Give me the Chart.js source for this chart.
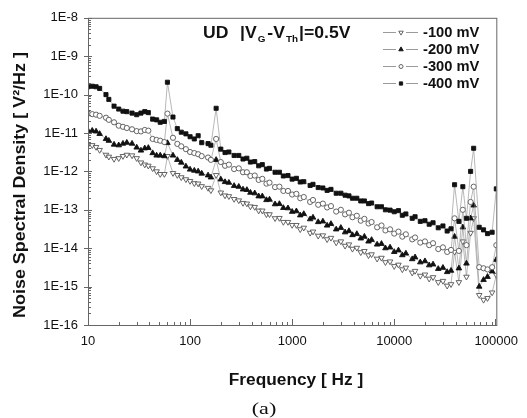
<!DOCTYPE html>
<html>
<head>
<meta charset="utf-8">
<script src="https://cdn.jsdelivr.net/npm/chart.js@4.4.1/dist/chart.umd.min.js"></script>
<style>
  html, body { margin: 0; padding: 0; background: #ffffff; }
  #wrap { width: 527px; height: 418px; }
</style>
</head>
<body>
<div id="wrap"><canvas id="noiseChart" width="527" height="418"></canvas></div>
<script>
// ---------- data ----------
const freqs = [
  10, 11, 12, 13, 15, 16, 18, 20, 22, 24, 27, 30, 33, 36, 39, 43, 47, 51, 56, 60, 68, 75, 82, 91,
  100, 110, 120, 130, 150, 160, 180, 200, 220, 240, 270, 300, 330, 360, 390, 430, 470, 510, 560, 600, 680, 750, 820, 910,
  1000, 1100, 1200, 1300, 1500, 1600, 1800, 2000, 2200, 2400, 2700, 3000, 3300, 3600, 3900, 4300, 4700, 5100, 5600, 6000, 6800, 7500, 8200, 9100,
  10000, 11000, 12000, 13000, 15000, 16000, 18000, 20000, 22000, 24000, 27000, 30000, 33000, 36000, 39000, 43000, 47000, 51000, 56000, 60000, 68000, 75000, 82000, 91000,
  100000
];

const psd100 = [
  4.9e-12, 4.8e-12, 4.3e-12, 3.6e-12, 2.7e-12, 2.4e-12, 2.1e-12, 2.2e-12, 2.5e-12, 2.7e-12, 2.6e-12, 2.2e-12, 1.7e-12, 1.5e-12, 1.4e-12, 1.2e-12, 1.0e-12, 8.5e-13, 8.5e-13, 2.5e-12, 9.0e-13, 8.0e-13, 7.0e-13, 6.2e-13,
  5.6e-13, 4.9e-13, 4.8e-13, 4.1e-13, 3.7e-13, 3.2e-13, 8.0e-13, 2.8e-13, 2.35e-13, 2.25e-13, 1.9e-13, 1.75e-13, 1.5e-13, 1.45e-13, 1.22e-13, 1.18e-13, 9.5e-14, 9.5e-14, 7.6e-14, 7.6e-14, 6.0e-14, 6.1e-14, 4.8e-14, 4.8e-14,
  4.0e-14, 4.0e-14, 3.1e-14, 3.4e-14, 2.5e-14, 2.7e-14, 2.1e-14, 2.15e-14, 1.7e-14, 1.85e-14, 1.4e-14, 1.5e-14, 1.15e-14, 1.25e-14, 9.6e-15, 1.02e-14, 7.8e-15, 8.4e-15, 6.5e-15, 6.9e-15, 5.3e-15, 5.6e-15, 4.3e-15, 4.5e-15,
  3.4e-15, 3.7e-15, 2.8e-15, 3.1e-15, 2.3e-15, 2.55e-15, 1.9e-15, 2.05e-15, 1.6e-15, 1.75e-15, 1.3e-15, 1.4e-15, 1.05e-15, 1.15e-15, 8.0e-15, 1.3e-15, 1.5e-14, 1.8e-15, 2.5e-14, 6.0e-14, 6.0e-16, 4.5e-16, 5.0e-16, 7.0e-16,
  2.0e-15
];

const psd200 = [
  1.15e-11, 1.15e-11, 1.1e-11, 9.5e-12, 7.0e-12, 6.3e-12, 5.0e-12, 4.8e-12, 5.3e-12, 5.6e-12, 5.3e-12, 4.2e-12, 3.5e-12, 4.0e-12, 4.1e-12, 3.0e-12, 2.6e-12, 2.6e-12, 2.5e-12, 5.5e-12, 2.6e-12, 2.0e-12, 1.7e-12, 1.35e-12,
  1.12e-12, 1.05e-12, 1.0e-12, 8.8e-13, 7.9e-13, 7.0e-13, 2.0e-12, 6.2e-13, 5.3e-13, 5.1e-13, 4.2e-13, 4.0e-13, 3.4e-13, 3.3e-13, 2.8e-13, 2.7e-13, 2.25e-13, 2.25e-13, 1.8e-13, 1.85e-13, 1.4e-13, 1.42e-13, 1.12e-13, 1.1e-13,
  8.9e-14, 9.2e-14, 7.2e-14, 7.8e-14, 5.7e-14, 6.3e-14, 4.8e-14, 5.0e-14, 3.9e-14, 4.3e-14, 3.1e-14, 3.4e-14, 2.6e-14, 2.8e-14, 2.2e-14, 2.35e-14, 1.8e-14, 2.0e-14, 1.5e-14, 1.65e-14, 1.25e-14, 1.3e-14, 1.0e-14, 1.05e-14,
  8.0e-15, 8.8e-15, 6.6e-15, 7.3e-15, 5.2e-15, 5.8e-15, 4.3e-15, 4.6e-15, 3.6e-15, 3.8e-15, 2.9e-15, 3.1e-15, 2.4e-15, 2.6e-15, 2.0e-14, 3.0e-15, 3.5e-14, 4.0e-15, 6.0e-14, 1.3e-13, 1.0e-15, 1.5e-15, 1.8e-15, 2.5e-15,
  5.0e-15
];

const psd300 = [
  3.2e-11, 3.1e-11, 3.0e-11, 2.8e-11, 2.5e-11, 2.2e-11, 1.9e-11, 1.55e-11, 1.45e-11, 1.35e-11, 1.25e-11, 1.12e-11, 1.1e-11, 1.2e-11, 1.15e-11, 7.0e-12, 6.6e-12, 6.3e-12, 5.8e-12, 3.2e-11, 7.5e-12, 5.2e-12, 4.5e-12, 3.8e-12,
  3.2e-12, 3.0e-12, 2.8e-12, 2.5e-12, 2.3e-12, 2.0e-12, 7.0e-12, 1.75e-12, 1.4e-12, 1.5e-12, 1.15e-12, 1.2e-12, 9.5e-13, 9.5e-13, 7.6e-13, 7.8e-13, 6.0e-13, 6.4e-13, 4.8e-13, 5.1e-13, 3.9e-13, 4.0e-13, 3.1e-13, 3.1e-13,
  2.5e-13, 2.6e-13, 2.0e-13, 2.15e-13, 1.6e-13, 1.8e-13, 1.35e-13, 1.45e-13, 1.15e-13, 1.25e-13, 9.0e-14, 1.0e-13, 7.6e-14, 8.4e-14, 6.4e-14, 7.0e-14, 5.2e-14, 5.8e-14, 4.4e-14, 4.8e-14, 3.5e-14, 3.9e-14, 2.9e-14, 3.1e-14,
  2.4e-14, 2.7e-14, 2.0e-14, 2.3e-14, 1.7e-14, 1.9e-14, 1.4e-14, 1.5e-14, 1.2e-14, 1.35e-14, 9.5e-15, 1.05e-14, 8.0e-15, 9.0e-15, 6.0e-14, 8.5e-15, 1.0e-13, 1.2e-14, 1.6e-13, 4.0e-13, 3.2e-15, 3.0e-15, 2.8e-15, 3.2e-15,
  1.2e-14
];

const psd400 = [
  1.6e-10, 1.65e-10, 1.6e-10, 1.45e-10, 1.0e-10, 7.5e-11, 5.0e-11, 4.2e-11, 3.7e-11, 3.6e-11, 3.3e-11, 3.0e-11, 3.3e-11, 3.6e-11, 3.4e-11, 2.3e-11, 2.2e-11, 1.9e-11, 2.0e-11, 2.1e-10, 2.6e-11, 1.3e-11, 1.05e-11, 9.5e-12,
  8.0e-12, 7.0e-12, 8.5e-12, 5.6e-12, 5.3e-12, 4.8e-12, 4.4e-11, 3.8e-12, 3.1e-12, 3.2e-12, 2.6e-12, 2.6e-12, 2.1e-12, 2.2e-12, 1.75e-12, 1.8e-12, 1.4e-12, 1.5e-12, 1.15e-12, 1.2e-12, 9.5e-13, 9.5e-13, 7.6e-13, 7.8e-13,
  6.3e-13, 6.6e-13, 5.3e-13, 5.4e-13, 4.3e-13, 4.6e-13, 3.8e-13, 3.7e-13, 3.2e-13, 3.4e-13, 2.7e-13, 2.7e-13, 2.4e-13, 2.3e-13, 2.0e-13, 2.0e-13, 1.7e-13, 1.7e-13, 1.45e-13, 1.5e-13, 1.2e-13, 1.2e-13, 1.0e-13, 9.8e-14,
  8.9e-14, 9.5e-14, 7.2e-14, 7.8e-14, 6.0e-14, 6.6e-14, 5.0e-14, 5.2e-14, 4.2e-14, 4.6e-14, 3.4e-14, 3.8e-14, 2.8e-14, 3.2e-14, 4.5e-13, 5.0e-14, 4.0e-13, 6.0e-14, 1.0e-12, 4.0e-12, 3.5e-14, 3.0e-14, 2.4e-14, 2.6e-14,
  3.5e-13
];

const seriesLabels = ["-100 mV", "-200 mV", "-300 mV", "-400 mV"];
const xTicks = [10, 100, 1000, 10000, 100000];
const yTicks = [1e-16, 1e-15, 1e-14, 1e-13, 1e-12, 1e-11, 1e-10, 1e-9, 1e-8];

// ---------- styles ----------
const markers = [
  { pointStyle: "triangle", rotation: 180, radius: 3.2, fill: "#ffffff", edge: "#555555" },
  { pointStyle: "triangle", rotation: 0, radius: 3.2, fill: "#111111", edge: "#111111" },
  { pointStyle: "circle", rotation: 0, radius: 2.6, fill: "#ffffff", edge: "#555555" },
  { pointStyle: "rect", rotation: 0, radius: 2.9, fill: "#111111", edge: "#111111" }
];
const seriesData = [psd100, psd200, psd300, psd400];

function toPoints(values){
  return freqs.map((f, i) => ({ x: f, y: values[i] }));
}

const datasets = seriesData.map((vals, i) => ({
  label: seriesLabels[i],
  data: toPoints(vals),
  showLine: true,
  borderColor: "#9a9a9a",
  borderWidth: 0.7,
  pointStyle: markers[i].pointStyle,
  rotation: markers[i].rotation,
  pointRadius: markers[i].radius,
  pointBackgroundColor: markers[i].fill,
  pointBorderColor: markers[i].edge,
  pointBorderWidth: 0.9,
  order: 4 - i
}));

// text with a little horizontal stretch, the scan is wider than plain Arial
function stretchText(ctx, text, x, y, font, align, sx){
  ctx.save();
  ctx.font = font;
  ctx.textAlign = align;
  ctx.textBaseline = "alphabetic";
  ctx.translate(x, y);
  ctx.scale(sx, 1);
  ctx.fillText(text, 0, 0);
  const w = ctx.measureText(text).width * sx;
  ctx.restore();
  return w;
}

// frame + ticks
const framePlugin = {
  id: "frame",
  afterDraw(chart){
    const ctx = chart.ctx;
    const a = chart.chartArea;
    const xs = chart.scales.x;
    const ys = chart.scales.y;
    ctx.save();
    ctx.strokeStyle = "#666666";
    ctx.lineWidth = 1;
    ctx.strokeRect(a.left + 0.5, a.top + 0.5, a.right - a.left, a.bottom - a.top);

    ctx.beginPath();
    // x ticks, pointing up into the plot
    for(let d = 10; d < 100000; d *= 10){
      for(let k = 1; k <= 9; k++){
        const px = Math.round(xs.getPixelForValue(d * k)) + 0.5;
        const len = k === 1 ? 6 : 3;
        ctx.moveTo(px, a.bottom);
        ctx.lineTo(px, a.bottom - len);
      }
    }
    const pxEnd = Math.round(xs.getPixelForValue(100000)) - 0.5;
    ctx.moveTo(pxEnd, a.bottom);
    ctx.lineTo(pxEnd, a.bottom - 6);

    // y ticks: major out, minor in
    for(let d = 1e-16; d < 1e-8 * 1.01; d *= 10){
      const py = Math.round(ys.getPixelForValue(d)) + 0.5;
      ctx.moveTo(a.left - 4, py);
      ctx.lineTo(a.left + 4, py);
      if(d < 1e-8 * 0.5){
        for(let k = 2; k <= 9; k++){
          const my = Math.round(ys.getPixelForValue(d * k)) + 0.5;
          ctx.moveTo(a.left, my);
          ctx.lineTo(a.left + 3, my);
        }
      }
    }
    ctx.stroke();
    ctx.restore();
  }
};

// titles, annotation and legend
const textPlugin = {
  id: "texts",
  afterDraw(chart){
    const ctx = chart.ctx;
    ctx.save();
    ctx.fillStyle = "#111111";

    // y title
    ctx.save();
    ctx.translate(25, 185);
    ctx.rotate(-Math.PI / 2);
    ctx.scale(1.12, 1);
    ctx.font = "bold 16px 'Liberation Sans', Arial, sans-serif";
    ctx.textAlign = "center";
    ctx.fillText("Noise Spectral Density [ V\u00B2/Hz ]", 0, 0);
    ctx.restore();

    // x title
    stretchText(ctx, "Frequency [ Hz ]", 296, 385, "bold 16px 'Liberation Sans', Arial, sans-serif", "center", 1.08);

    // panel label
    stretchText(ctx, "(a)", 264, 414, "17px 'Liberation Serif', 'Times New Roman', serif", "center", 1.3);

    // annotation
    const big = "bold 16px 'Liberation Sans', Arial, sans-serif";
    const small = "bold 9px 'Liberation Sans', Arial, sans-serif";
    const by = 38;
    stretchText(ctx, "UD", 203, by, big, "left", 1.1);
    let cx = 240;
    cx += stretchText(ctx, "|V", cx, by, big, "left", 1.1);
    cx += stretchText(ctx, "G", cx + 1, by + 4, small, "left", 1.1) + 3;
    cx += stretchText(ctx, "-V", cx, by, big, "left", 1.1);
    cx += stretchText(ctx, "Th", cx + 1, by + 4, small, "left", 1.1) + 2;
    stretchText(ctx, "|=0.5V", cx, by, big, "left", 1.1);

    // legend
    const rows = [32, 49, 66, 83];
    for(let i = 0; i < 4; i++){
      const y = rows[i];
      ctx.strokeStyle = "#9a9a9a";
      ctx.lineWidth = 1;
      ctx.beginPath();
      ctx.moveTo(383, y + 0.5); ctx.lineTo(396, y + 0.5);
      ctx.moveTo(406, y + 0.5); ctx.lineTo(418, y + 0.5);
      ctx.stroke();
      const m = markers[i];
      ctx.fillStyle = m.fill;
      ctx.strokeStyle = m.edge;
      ctx.lineWidth = 0.9;
      Chart.helpers.drawPoint(ctx, { pointStyle: m.pointStyle, rotation: m.rotation, radius: m.radius - 0.6, borderWidth: 0.9 }, 401, y + 0.5);
      ctx.fillStyle = "#111111";
      stretchText(ctx, seriesLabels[i], 423, y + 5, "bold 14px 'Liberation Sans', Arial, sans-serif", "left", 1.05);
    }
    ctx.restore();
  }
};

new Chart(document.getElementById("noiseChart"), {
  type: "scatter",
  data: { datasets: datasets },
  options: {
    responsive: false,
    animation: false,
    devicePixelRatio: 1,
    layout: { padding: { top: 13, right: 22, left: 0, bottom: 0 } },
    plugins: {
      legend: { display: false },
      tooltip: { enabled: false }
    },
    scales: {
      x: {
        type: "logarithmic",
        min: 10,
        max: 100000,
        grid: { display: false, drawTicks: false },
        border: { display: false },
        afterBuildTicks: s => { s.ticks = xTicks.map(v => ({ value: v })); },
        afterFit: s => { s.height = 93; },
        ticks: {
          autoSkip: false,
          maxRotation: 0,
          padding: 9,
          color: "#111111",
          font: { family: "'Liberation Sans', Arial, sans-serif", size: 13 },
          callback: v => String(v)
        }
      },
      y: {
        type: "logarithmic",
        min: 1e-16,
        max: 1e-8,
        grid: { display: false, drawTicks: false },
        border: { display: false },
        afterBuildTicks: s => { s.ticks = yTicks.map(v => ({ value: v })); },
        afterFit: s => { s.width = 88; },
        ticks: {
          autoSkip: false,
          padding: 10,
          color: "#111111",
          font: { family: "'Liberation Sans', Arial, sans-serif", size: 13 },
          callback: v => "1E" + Math.round(Math.log10(v))
        }
      }
    }
  },
  plugins: [framePlugin, textPlugin]
});
</script>
</body>
</html>
